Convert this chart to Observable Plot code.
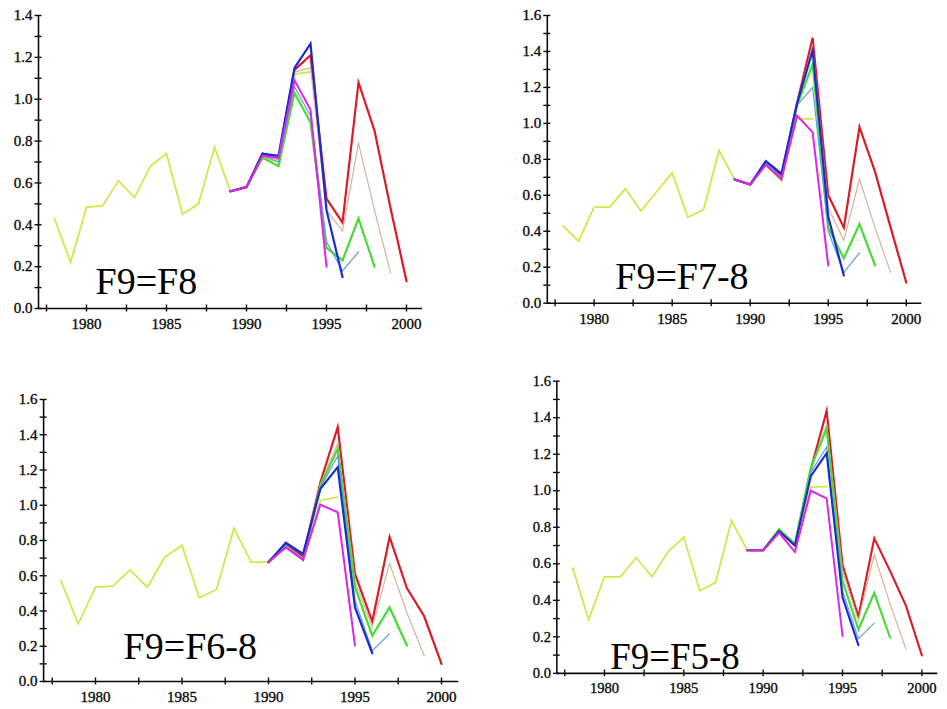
<!DOCTYPE html>
<html>
<head>
<meta charset="utf-8">
<script src="https://cdn.jsdelivr.net/npm/d3@7"></script>
<script src="https://cdn.jsdelivr.net/npm/@observablehq/plot@0.6"></script>
<style>
  body { margin: 0; background: #fff; width: 947px; height: 709px; overflow: hidden; position: relative; }
  .panel { position: absolute; }
  .panel svg text { font-family: "Liberation Serif", "Times New Roman", Times, serif; }
</style>
</head>
<body>
<div id="p1" class="panel"></div>
<div id="p2" class="panel"></div>
<div id="p3" class="panel"></div>
<div id="p4" class="panel"></div>
<script>
// Years of the assessment and the terminal year of each retrospective peel
const years = [1978, 1979, 1980, 1981, 1982, 1983, 1984, 1985, 1986, 1987, 1988, 1989, 1990,
               1991, 1992, 1993, 1994, 1995, 1996, 1997, 1998, 1999, 2000];
const peels = [2000, 1999, 1998, 1997, 1996, 1995, 1994];
const peelColors = ["#dc1c24", "#d6b29a", "#46dc34", "#5f9ed8", "#1b2ccc", "#e024e6", "#cfe84c"];
const peelWidths = [2.2, 1.2, 2.2, 1.2, 2.2, 2, 1.8];
// the shortest peel carries the common early history; the others are drawn over it
const drawOrder = [6, 0, 1, 2, 3, 4, 5];

// Axis ticks
const xTicks = [1977.5, 1980, 1982.5, 1985, 1987.5, 1990, 1992.5, 1995, 1997.5, 2000];
const xLabels = [1980, 1985, 1990, 1995, 2000];
const yTicks14 = [0, 0.1, 0.2, 0.3, 0.4, 0.5, 0.6, 0.7, 0.8, 0.9, 1.0, 1.1, 1.2, 1.3, 1.4];
const yLabels14 = [0, 0.2, 0.4, 0.6, 0.8, 1.0, 1.2, 1.4];
const yTicks16 = [0, 0.1, 0.2, 0.3, 0.4, 0.5, 0.6, 0.7, 0.8, 0.9, 1.0, 1.1, 1.2, 1.3, 1.4, 1.5, 1.6];
const yLabels16 = [0, 0.2, 0.4, 0.6, 0.8, 1.0, 1.2, 1.4, 1.6];

// F9 = F8 : 1978-1990 shared by all peels, then one tail per peel from 1991
const f8Base = [0.43, 0.22, 0.485, 0.49, 0.61, 0.53, 0.68, 0.74, 0.45, 0.50, 0.77, 0.56, 0.58];
const f8Tail2000 = [0.74, 0.72, 1.14, 1.21, 0.525, 0.41, 1.08, 0.85, 0.48, 0.13];
const f8Tail1999 = [0.73, 0.71, 1.13, 1.15, 0.47, 0.37, 0.79, 0.47, 0.17];
const f8Tail1998 = [0.72, 0.68, 1.03, 0.89, 0.29, 0.23, 0.43, 0.20];
const f8Tail1997 = [0.73, 0.70, 1.06, 0.92, 0.32, 0.18, 0.27];
const f8Tail1996 = [0.74, 0.73, 1.15, 1.265, 0.47, 0.15];
const f8Tail1995 = [0.73, 0.72, 1.09, 0.95, 0.20];
const f8Tail1994 = [0.72, 0.70, 1.12, 1.13];

// F9 = F7-8
const f78Base = [0.43, 0.345, 0.534, 0.534, 0.636, 0.512, 0.62, 0.725, 0.478, 0.519, 0.849, 0.688, 0.66];
const f78Tail2000 = [0.78, 0.71, 1.11, 1.476, 0.60, 0.42, 0.98, 0.73, 0.42, 0.115];
const f78Tail1999 = [0.78, 0.70, 1.10, 1.43, 0.53, 0.35, 0.69, 0.42, 0.17];
const f78Tail1998 = [0.77, 0.69, 1.10, 1.33, 0.42, 0.25, 0.44, 0.21];
const f78Tail1997 = [0.78, 0.70, 1.10, 1.20, 0.40, 0.17, 0.28];
const f78Tail1996 = [0.79, 0.72, 1.11, 1.405, 0.48, 0.154];
const f78Tail1995 = [0.77, 0.69, 1.044, 0.95, 0.21];
const f78Tail1994 = [0.77, 0.68, 1.025, 1.025];

// F9 = F6-8
const f68Base = [0.573, 0.327, 0.535, 0.541, 0.634, 0.535, 0.705, 0.772, 0.475, 0.522, 0.87, 0.677, 0.677];
const f68Tail2000 = [0.78, 0.71, 1.13, 1.443, 0.61, 0.34, 0.82, 0.53, 0.37, 0.10];
const f68Tail1999 = [0.77, 0.70, 1.12, 1.35, 0.57, 0.31, 0.67, 0.39, 0.148];
const f68Tail1998 = [0.77, 0.69, 1.11, 1.32, 0.535, 0.26, 0.42, 0.204];
const f68Tail1997 = [0.77, 0.70, 1.10, 1.28, 0.46, 0.175, 0.27];
const f68Tail1996 = [0.787, 0.724, 1.093, 1.216, 0.42, 0.16];
const f68Tail1995 = [0.76, 0.69, 1.004, 0.96, 0.204];
const f68Tail1994 = [0.77, 0.687, 1.027, 1.046];

// F9 = F5-8
const f58Base = [0.577, 0.293, 0.529, 0.529, 0.633, 0.529, 0.665, 0.745, 0.452, 0.497, 0.837, 0.674, 0.674];
const f58Tail2000 = [0.78, 0.70, 1.117, 1.437, 0.594, 0.31, 0.74, 0.56, 0.37, 0.098];
const f58Tail1999 = [0.78, 0.70, 1.12, 1.36, 0.56, 0.29, 0.65, 0.38, 0.133];
const f58Tail1998 = [0.79, 0.71, 1.126, 1.34, 0.506, 0.24, 0.44, 0.195];
const f58Tail1997 = [0.78, 0.70, 1.10, 1.24, 0.45, 0.19, 0.275];
const f58Tail1996 = [0.78, 0.70, 1.08, 1.206, 0.417, 0.155];
const f58Tail1995 = [0.77, 0.665, 1.0, 0.958, 0.204];
const f58Tail1994 = [0.78, 0.70, 1.02, 1.023];

const panels = [
  { id: "p1", title: "F9=F8", base: f8Base, splitYear: 1989,
    tails: [f8Tail2000, f8Tail1999, f8Tail1998, f8Tail1997, f8Tail1996, f8Tail1995, f8Tail1994],
    yMax: 1.4, yTicks: yTicks14, yLabels: yLabels14,
    left: 0, top: 0, width: 440, height: 335, mL: 38, mR: 18, mT: 15, mB: 27, tdx: 57, tdy: -15 },
  { id: "p2", title: "F9=F7-8", base: f78Base, splitYear: 1989,
    tails: [f78Tail2000, f78Tail1999, f78Tail1998, f78Tail1997, f78Tail1996, f78Tail1995, f78Tail1994],
    yMax: 1.6, yTicks: yTicks16, yLabels: yLabels16,
    left: 500, top: 0, width: 441.4, height: 330, mL: 46.8, mR: 20, mT: 15, mB: 27.3, tdx: 68, tdy: -14 },
  { id: "p3", title: "F9=F6-8", base: f68Base, splitYear: 1990,
    tails: [f68Tail2000, f68Tail1999, f68Tail1998, f68Tail1997, f68Tail1996, f68Tail1995, f68Tail1994],
    yMax: 1.6, yTicks: yTicks16, yLabels: yLabels16,
    left: 0, top: 380, width: 468.3, height: 329, mL: 43.1, mR: 10, mT: 19, mB: 28, tdx: 80, tdy: -22 },
  { id: "p4", title: "F9=F5-8", base: f58Base, splitYear: 1989,
    tails: [f58Tail2000, f58Tail1999, f58Tail1998, f58Tail1997, f58Tail1996, f58Tail1995, f58Tail1994],
    yMax: 1.6, yTicks: yTicks16, yLabels: yLabels16,
    left: 510, top: 370, width: 449.7, height: 339, mL: 47.7, mR: 10, mT: 11, mB: 27.3, tdx: 55, tdy: -4 }
];

const ink = "#0a0a0a";
const half = 3.5; // half-length of the tick marks crossing each axis
const serif = '"Liberation Serif", "Times New Roman", Times, serif';

for (const p of panels) {
  const frameW = p.width - p.mL - p.mR;
  const frameH = p.height - p.mT - p.mB;

  const lineMarks = drawOrder.map(i => {
    const values = p.base.concat(p.tails[i]);
    let rows = values.map((v, j) => ({ year: years[j], value: v }));
    if (i !== 6) rows = rows.filter(r => r.year >= p.splitYear);
    return Plot.line(rows, {
      x: "year", y: "value",
      stroke: peelColors[i], strokeWidth: peelWidths[i],
      strokeLinejoin: "miter", strokeMiterlimit: 6
    });
  });

  const chart = Plot.plot({
    width: p.width, height: p.height,
    marginLeft: p.mL, marginRight: p.mR, marginTop: p.mT, marginBottom: p.mB,
    style: { fontFamily: serif, fontSize: "15px", background: "#fff", color: ink, overflow: "visible" },
    x: { domain: [1977, 2001], axis: null },
    y: { domain: [0, p.yMax], axis: null },
    marks: [
      ...lineMarks,
      // axis lines
      Plot.ruleX([1977], { stroke: ink, strokeWidth: 1.6 }),
      Plot.ruleY([0], { stroke: ink, strokeWidth: 1.6 }),
      // y ticks crossing the left axis
      Plot.tickY(p.yTicks, { y: d => d, insetRight: frameW - 2 * half, dx: -half, stroke: ink, strokeWidth: 1.4 }),
      // x ticks crossing the bottom axis
      Plot.tickX(xTicks, { x: d => d, insetTop: frameH - 2 * half, dy: half, stroke: ink, strokeWidth: 1.4 }),
      // tick labels
      Plot.text(p.yLabels, { y: d => d, text: d => d.toFixed(1), frameAnchor: "left", textAnchor: "end", dx: -6,
        fill: ink, stroke: ink, strokeWidth: 0.35, fontFamily: serif }),
      Plot.text(xLabels, { x: d => d, text: d => String(d), frameAnchor: "bottom", lineAnchor: "top", dy: 10,
        fill: ink, stroke: ink, strokeWidth: 0.35, fontFamily: serif }),
      // panel label
      Plot.text([p.title], {
        frameAnchor: "bottom-left", textAnchor: "start", lineAnchor: "bottom",
        dx: p.tdx, dy: p.tdy, fontSize: 38, fill: "#000", fontFamily: serif
      })
    ]
  });
  const holder = document.getElementById(p.id);
  holder.style.left = p.left + "px";
  holder.style.top = p.top + "px";
  holder.appendChild(chart);
}
</script>
</body>
</html>
